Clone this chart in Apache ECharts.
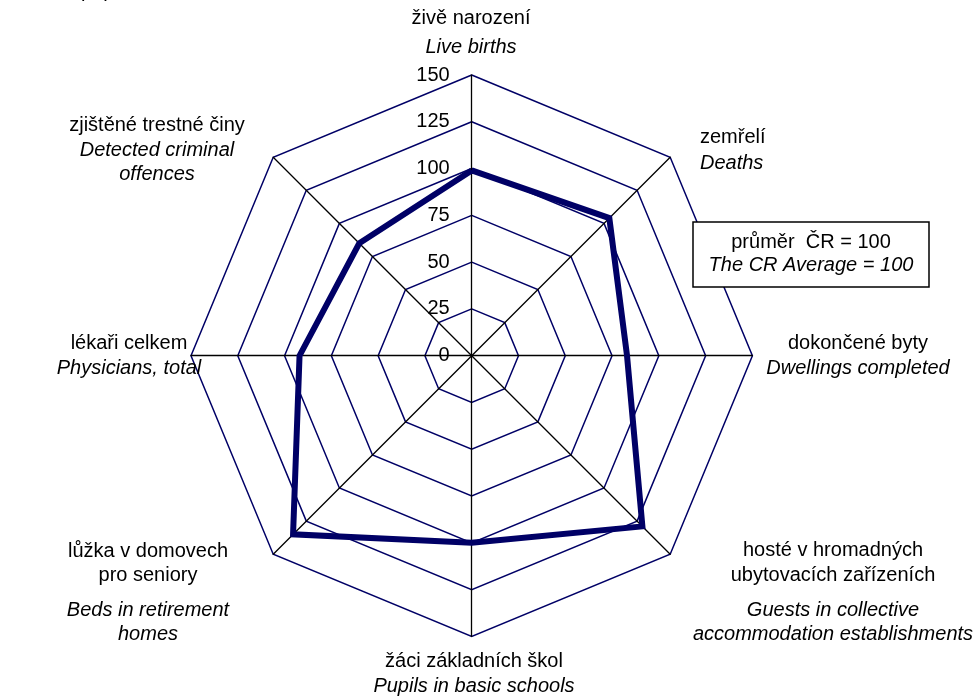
<!DOCTYPE html>
<html>
<head>
<meta charset="utf-8">
<script src="https://cdn.jsdelivr.net/npm/echarts@6/dist/echarts.min.js"></script>
<style>
  html, body { margin: 0; padding: 0; background: #fff; }
  #chart { width: 973px; height: 700px; }
</style>
</head>
<body>
<div id="chart"></div>
<script>
// indicators, counter-clockwise from the top (echarts radar order)
var namesCz = ['živě narození', 'zjištěné trestné činy', 'lékaři celkem', 'lůžka v domovech\npro seniory',
  'žáci základních škol', 'hosté v hromadných\nubytovacích zařízeních', 'dokončené byty', 'zemřelí'];
var namesEn = ['Live births', 'Detected criminal\noffences', 'Physicians, total', 'Beds in retirement\nhomes',
  'Pupils in basic schools', 'Guests in collective\naccommodation establishments', 'Dwellings completed', 'Deaths'];
// values (CR average = 100)
var values = [99, 85, 92, 135, 100, 129, 83, 104];
var axisMax = 150;

var FONT = '"Liberation Sans", Arial, sans-serif';
var FS = 20;
var NAVY = '#000066';

// label placement: x, align, y centre of each line (cz lines first, then en lines)
var labelPos = [
  [471, 'center', [18, 47]],
  [157, 'center', [125, 150, 174]],
  [129, 'center', [343, 368]],
  [148, 'center', [551, 575, 610, 634]],
  [474, 'center', [661, 686]],
  [833, 'center', [550, 575, 610, 634]],
  [858, 'center', [343, 368]],
  [700, 'left', [137, 163]]
];

var indicators = namesCz.map(function (n, i) {
  var ind = { name: n, min: 0, max: axisMax };
  if (i === 0) ind.axisLabel = { show: true };
  return ind;
});

function txt(x, y, s, italic, align, z) {
  return {
    type: 'text', x: x, y: y, z: z || 1,
    style: {
      text: s, fill: '#000', font: (italic ? 'italic ' : '') + FS + 'px ' + FONT,
      align: align || 'center', verticalAlign: 'middle'
    }
  };
}

var graphics = [];
namesCz.forEach(function (cz, i) {
  var p = labelPos[i];
  var lines = cz.split('\n').map(function (s) { return [s, false]; })
    .concat(namesEn[i].split('\n').map(function (s) { return [s, true]; }));
  lines.forEach(function (l, k) {
    graphics.push(txt(p[0], p[2][k], l[0], l[1], p[1]));
  });
});

// note box
graphics.push({
  type: 'rect', shape: { x: 693, y: 222, width: 236, height: 65 },
  style: { fill: '#fff', stroke: '#000', lineWidth: 1.5 }, z: 10
});
graphics.push(txt(811, 242, 'průměr  ČR = 100', false, 'center', 11));
graphics.push(txt(811, 265, 'The CR Average = 100', true, 'center', 11));
// cut-off heading at the top
graphics.push({
  type: 'text', x: 175, y: 1,
  style: { text: 'per 1 000 population', fill: '#000', font: 'italic ' + FS + 'px ' + FONT, align: 'right', verticalAlign: 'bottom' }
});

var option = {
  backgroundColor: '#fff',
  animation: false,
  radar: {
    center: [471.7, 355.7],
    radius: 280.7,
    startAngle: 90,
    shape: 'polygon',
    splitNumber: 6,
    indicator: indicators,
    axisName: { show: false },
    axisLine: { lineStyle: { color: '#000', width: 1.3 } },
    splitLine: { lineStyle: { color: NAVY, width: 1.5 } },
    splitArea: { show: false },
    axisTick: { show: false },
    axisLabel: {
      show: false,
      color: '#000',
      fontSize: FS,
      fontFamily: FONT,
      margin: 22
    }
  },
  series: [{
    type: 'radar',
    symbol: 'none',
    lineStyle: { color: NAVY, width: 6, join: 'miter' },
    data: [{ value: values, name: 'index' }]
  }],
  graphic: graphics
};

var chart = echarts.init(document.getElementById('chart'));
chart.setOption(option);
</script>
</body>
</html>
